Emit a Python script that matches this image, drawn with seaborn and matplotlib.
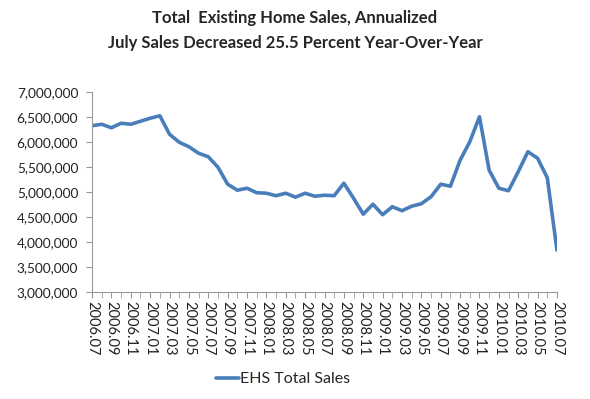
import seaborn as sns
import matplotlib.pyplot as plt
import matplotlib.ticker as mticker
import numpy as np

# Monthly existing home sales (annualized), 2006.07 - 2010.07
months = [f"{2006 + (6 + i) // 12}.{(6 + i) % 12 + 1:02d}" for i in range(49)]
sales = [
    6320000, 6350000, 6280000, 6370000, 6350000, 6410000, 6470000, 6520000,
    6150000, 5990000, 5900000, 5770000, 5700000, 5490000, 5150000, 5030000,
    5070000, 4980000, 4970000, 4920000, 4970000, 4890000, 4970000, 4910000,
    4930000, 4920000, 5170000, 4870000, 4550000, 4750000, 4540000, 4700000,
    4620000, 4710000, 4760000, 4900000, 5150000, 5110000, 5630000, 6000000,
    6500000, 5430000, 5070000, 5020000, 5400000, 5800000, 5670000, 5280000,
    3830000,
]
series_name = "EHS Total Sales"

sns.set_style("white")
plt.rcParams['font.family'] = ['Lato', 'DejaVu Sans']

fig = plt.figure(figsize=(5.9, 3.99), dpi=100)
ax = fig.add_axes([0.156, 0.269, 0.788, 0.501])

sns.lineplot(x=np.arange(len(sales)), y=sales, ax=ax, color='#4A7EBB',
             linewidth=2.6, label=series_name, legend=False)

ax.set_xlim(0, len(sales) - 1)
ax.set_ylim(3000000, 7000000)
ax.yaxis.set_major_locator(mticker.MultipleLocator(500000))
ax.yaxis.set_major_formatter(mticker.StrMethodFormatter('{x:,.0f}'))

ax.set_xticks(np.arange(0, len(sales), 2))
ax.set_xticklabels(months[::2], rotation=-90, fontsize=10.5, color='#222222')
ax.set_xticks(np.arange(len(sales)), minor=True)
ax.tick_params(axis='x', which='both', direction='out', length=4,
               color='#999999', bottom=True, pad=3)
ax.tick_params(axis='y', direction='out', length=4, color='#999999',
               left=True, labelsize=9.8, labelcolor='#222222', pad=6)

for side in ['top', 'right']:
    ax.spines[side].set_visible(False)
for side in ['left', 'bottom']:
    ax.spines[side].set_color('#999999')
    ax.spines[side].set_linewidth(0.8)
ax.set_xlabel('')
ax.set_ylabel('')

fig.text(0.5, 0.955, 'Total  Existing Home Sales, Annualized', ha='center',
         va='center', fontsize=12, fontweight='bold')
fig.text(0.5, 0.893, 'July Sales Decreased 25.5 Percent Year-Over-Year',
         ha='center', va='center', fontsize=12, fontweight='bold')

handles, labels = ax.get_legend_handles_labels()
fig.legend(handles, labels, loc='center', bbox_to_anchor=(0.48, 0.05),
           frameon=False, fontsize=11.5, handlelength=1.4, handletextpad=0.1)

fig.savefig('out.png', dpi=100)
